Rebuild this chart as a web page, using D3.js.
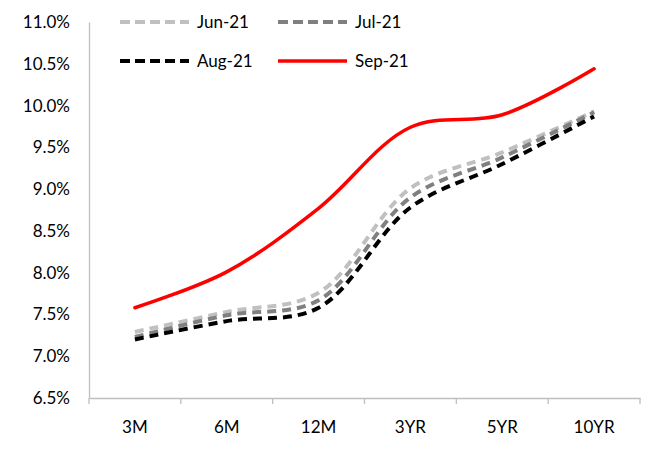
<!DOCTYPE html>
<html>
<head>
<meta charset="utf-8">
<script src="https://cdn.jsdelivr.net/npm/d3@7"></script>
<style>
  html, body { margin: 0; padding: 0; background: #fff; }
  svg { display: block; }
  text { font-family: Lato, "Open Sans", sans-serif; fill: #000; }
</style>
</head>
<body>
<svg id="chart" width="648" height="449"></svg>
<script>
// Yield curve tenors
const tenors = ["3M", "6M", "12M", "3YR", "5YR", "10YR"];

// Yields (%) per month
const jun21 = [7.29, 7.53, 7.76, 9.01, 9.44, 9.93];
const jul21 = [7.23, 7.49, 7.67, 8.90, 9.38, 9.92];
const aug21 = [7.20, 7.42, 7.58, 8.78, 9.30, 9.87];
const sep21 = [7.58, 8.01, 8.77, 9.74, 9.89, 10.44];

const seriesNames = ["Jun-21", "Jul-21", "Aug-21", "Sep-21"];
const yTicks = [6.5, 7.0, 7.5, 8.0, 8.5, 9.0, 9.5, 10.0, 10.5, 11.0];

const series = [
  { name: seriesNames[0], values: jun21, color: "#c0c0c0", dash: "9,6" },
  { name: seriesNames[1], values: jul21, color: "#808080", dash: "9,6" },
  { name: seriesNames[2], values: aug21, color: "#000000", dash: "9,6" },
  { name: seriesNames[3], values: sep21, color: "#ff0000", dash: null }
];

const svg = d3.select("#chart");
const plotLeft = 89, plotRight = 640, plotTop = 22, plotBottom = 398;

const x = d3.scaleBand().domain(tenors).range([plotLeft, plotRight]);
const y = d3.scaleLinear().domain([6.5, 11.0]).range([plotBottom, plotTop]);

// Y axis: labels only, plain grey spine
const yAxis = svg.append("g")
  .attr("transform", `translate(${plotLeft},0)`)
  .call(d3.axisLeft(y).tickValues(yTicks).tickSize(0).tickPadding(19)
    .tickFormat(d => d.toFixed(1) + "%"));
yAxis.select(".domain").attr("stroke", "#bfbfbf").attr("stroke-width", 1.3);
yAxis.selectAll("text").style("font-size", "17px").attr("font-family", null);

// X axis with category-boundary tick marks
const xAxis = svg.append("g")
  .attr("transform", `translate(0,${plotBottom})`)
  .call(d3.axisBottom(x).tickSize(0).tickPadding(23));
xAxis.select(".domain").attr("stroke", "#bfbfbf").attr("stroke-width", 1.3);
xAxis.selectAll("text").style("font-size", "17px").attr("font-family", null);

const bounds = tenors.map(t => x(t)).concat([plotRight]);
xAxis.selectAll("line.bound").data(bounds).join("line")
  .attr("class", "bound")
  .attr("x1", d => d).attr("x2", d => d)
  .attr("y1", 0).attr("y2", 6)
  .attr("stroke", "#bfbfbf").attr("stroke-width", 1.3);

// Smoothed lines
const line = d3.line()
  .x((d, i) => x(tenors[i]) + x.bandwidth() / 2)
  .y(d => y(d))
  .curve(d3.curveCatmullRom.alpha(0.5));

svg.append("g").selectAll("path").data(series).join("path")
  .attr("d", d => line(d.values))
  .attr("fill", "none")
  .attr("stroke", d => d.color)
  .attr("stroke-width", d => d.dash ? 4 : 3.5)
  .attr("stroke-dasharray", d => d.dash)
  .attr("stroke-linecap", d => d.dash ? "butt" : "round");

// Legend, two columns by two rows
const legendPos = [[120, 22], [278, 22], [120, 61], [278, 61]];
const legend = svg.append("g").selectAll("g").data(series).join("g")
  .attr("transform", (d, i) => `translate(${legendPos[i][0]},${legendPos[i][1]})`);

legend.append("line")
  .attr("x1", 0).attr("x2", 69).attr("y1", 0).attr("y2", 0)
  .attr("stroke", d => d.color)
  .attr("stroke-width", d => d.dash ? 4 : 3.5)
  .attr("stroke-dasharray", d => d.dash ? "10,5" : null);

legend.append("text")
  .attr("x", 77).attr("y", 0).attr("dy", "0.35em")
  .style("font-size", "17px")
  .text(d => d.name);
</script>
</body>
</html>
